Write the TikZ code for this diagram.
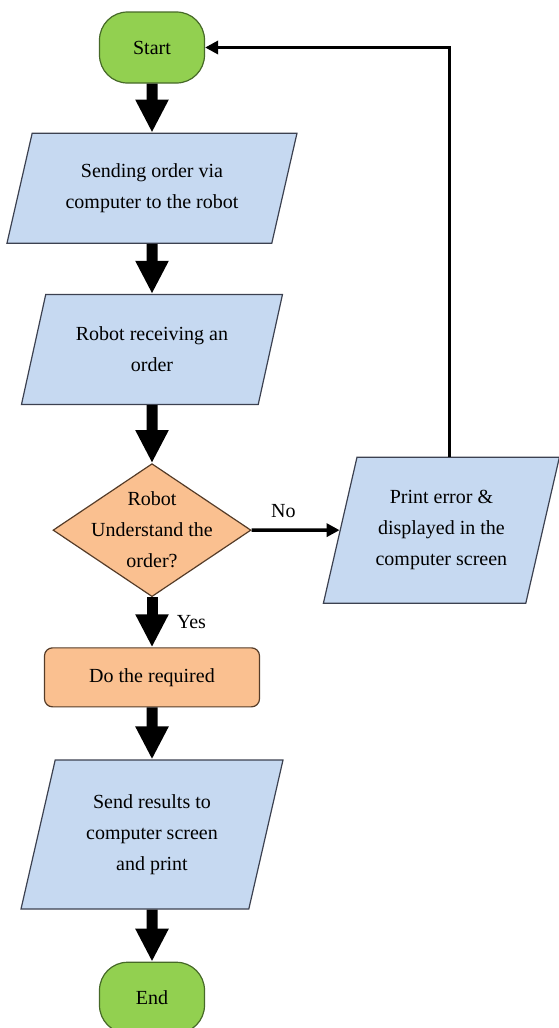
\documentclass[tikz,border=0pt]{standalone}
\usepackage{fontspec}
\setmainfont{Liberation Serif}
\usetikzlibrary{shapes.geometric, arrows.meta, calc, positioning}
\definecolor{termfill}{RGB}{146,208,80}
\definecolor{termedge}{RGB}{70,105,40}
\definecolor{iofill}{RGB}{198,217,241}
\definecolor{ioedge}{RGB}{60,65,80}
\definecolor{procfill}{RGB}{250,192,144}
\definecolor{procedge}{RGB}{85,60,40}
\tikzstyle{terminal} = [rectangle, rounded corners=28pt, minimum width=105pt, minimum height=71pt, fill=termfill, draw=termedge, line width=1.2pt]
\tikzstyle{io} = [trapezium, trapezium left angle=77, trapezium right angle=103, trapezium stretches body, minimum height=110pt, inner xsep=2pt, inner ysep=30pt, fill=iofill, draw=ioedge, line width=1.2pt, align=center]
\tikzstyle{decision} = [diamond, minimum width=198pt, minimum height=133pt, fill=procfill, draw=procedge, line width=1.2pt]
\tikzstyle{process} = [rectangle, rounded corners=8pt, minimum width=215pt, minimum height=59pt, fill=procfill, draw=procedge, line width=1.2pt]
\tikzstyle{arrow} = [line width=11pt, -{Triangle[length=33pt, width=31pt]}]
\tikzstyle{thinarrow} = [line width=3.5pt, -{Triangle[length=13pt, width=13pt]}]

\begin{document}
\begin{tikzpicture}[node distance = 50pt, font=\fontsize{20}{31}\selectfont]
		\useasboundingbox (0,0) rectangle (559pt,-1028pt);
		\node (Start) [terminal] at (152pt,-47.5pt) {Start};
		\node (Sending) [io, minimum width=290pt, below = 49pt of Start] {Sending order via\\computer to the robot};
		\node (Receiving) [io, minimum width=261pt, below = 50pt of Sending] {Robot receiving an\\order};
		\node (Decision) [decision, below = 58pt of Receiving, label={[align=center]center:Robot\\Understand the\\order?}] {};
		\node (Required) [process, below = 50pt of Decision] {Do the required};
		\node (Results) [io, minimum width=262pt, minimum height=149pt, inner ysep=34pt, below = 52pt of Required] {Send results to\\computer screen\\and print};
		\node (End) [terminal, below = 52pt of Results] {End};
		\node (Error) [io, minimum width=236pt, minimum height=146pt, inner ysep=33pt, right = 88pt of Decision] {Print error \&\\displayed in the\\computer screen};

		\draw [arrow] (Start) -- (Sending);
		\draw [arrow] (Sending) -- (Receiving);
		\draw [arrow] (Receiving) -- (Decision);
		\draw [arrow] (Decision) -- node[right=16pt]{Yes} (Required);
		\draw [arrow] (Required) -- (Results);
		\draw [arrow] (Results) -- (End);
		\draw [thinarrow] (Decision) -- node[pos=0.36, above=7pt]{No} (Error);
		\draw [thinarrow] ([xshift=8pt]Error.north) |- (Start);
\end{tikzpicture}
\end{document}
